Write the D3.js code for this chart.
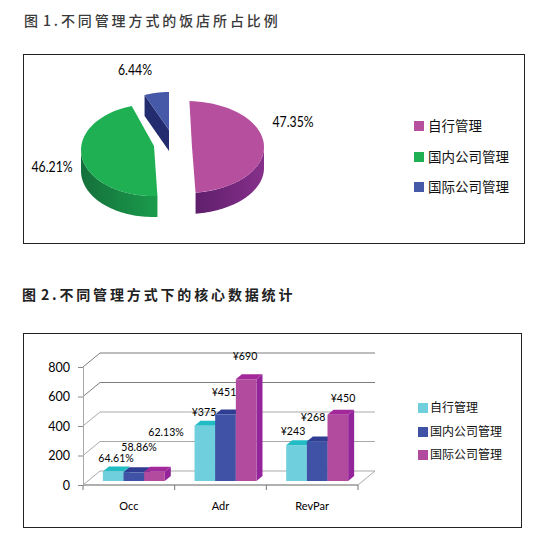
<!DOCTYPE html>
<html><head><meta charset="utf-8">
<script src="https://cdn.jsdelivr.net/npm/d3@7"></script>
<style>html,body{margin:0;padding:0;background:#fff}svg{display:block}</style>
</head><body><svg id="c" width="543" height="543"></svg>
<script>
// ---- data ----
const pieTitle = "图 1.不同管理方式的饭店所占比例";
const barTitle = "图 2.不同管理方式下的核心数据统计";
const pieCategories = ["自行管理", "国内公司管理", "国际公司管理"];
const pieValues = [47.35, 46.21, 6.44];
const pieLabels = ["47.35%", "46.21%", "6.44%"];
const barCategories = ["Occ", "Adr", "RevPar"];
const barSeries = ["自行管理", "国内公司管理", "国际公司管理"];
const seriesOwn = [64.61, 375, 243];
const seriesDomestic = [58.86, 451, 268];
const seriesIntl = [62.13, 690, 450];
const labelsOwn = ["64.61%", "¥375", "¥243"];
const labelsDomestic = ["58.86%", "¥451", "¥268"];
const labelsIntl = ["62.13%", "¥690", "¥450"];
const yTicks = [0, 200, 400, 600, 800];

// ---- style / layout ----
const svg = d3.select("#c");
const LATO = "Lato, Carlito, sans-serif";
const CJK = "'Noto Sans CJK SC', sans-serif";
const deg = Math.PI/180;
const pieStyle = [
  {cx:186, cy:147, ax:192, ay:147, rx:78, ry:46, rot:2.5, top:"#b64f9e", s0:"#86308a", s1:"#5f1f6c"},
  {cx:153, cy:150, ax:154, ay:146, rx:72, ry:46, rot:6, top:"#1eb053", s0:"#1a9b4c", s1:"#15703b"},
  {cx:169, cy:130, ax:169, ay:130, rx:62, ry:38, rot:0, top:"#4659a9", s0:"#232c6e", s1:"#232c6e"}
];
const pieDepth = 21;
const pieLabelPos = [[293,122],[52,167],[135,70]];
const barColors = [
  {front:"#70cfdd", top:"#22bcc4", side:"#3fb4c2"},
  {front:"#3f52a5", top:"#2f3d92", side:"#2c3a8c"},
  {front:"#b24a9e", top:"#a3289a", side:"#93249a"}
];

// draws text horizontally squeezed about its centre, keeping the font height
function squeezed(parent, px, py, str, size, factor){
  const g = parent.append("g").attr("transform",`translate(${px},${py}) scale(${factor},1)`);
  return g.append("text").attr("text-anchor","middle").attr("font-family",LATO)
    .attr("font-size",size).attr("fill","#000").text(str);
}

// frames
svg.append("rect").attr("x",23.5).attr("y",54.5).attr("width",501).attr("height",189).attr("fill","none").attr("stroke","#222").attr("stroke-width",1);
svg.append("rect").attr("x",23.5).attr("y",333.5).attr("width",498).attr("height",194).attr("fill","none").attr("stroke","#222").attr("stroke-width",1);

// titles
svg.append("text").attr("x",24).attr("y",26).text(pieTitle).attr("word-spacing",-4)
  .attr("font-family",CJK).attr("font-size",14).attr("font-weight",500).attr("letter-spacing",2.9).attr("fill","#3a3a3a");
svg.append("text").attr("x",22).attr("y",300).text(barTitle).attr("word-spacing",-4)
  .attr("font-family",CJK).attr("font-size",14).attr("font-weight",700).attr("letter-spacing",2.85).attr("fill","#222");

// ---- pie ----
const defs = svg.append("defs");
const pie = d3.pie().sort(null).value(d=>d)(pieValues);
const lineGen = d3.line();
function arcPts(st,a0,a1,dy){
  const n = 48;
  return d3.range(n+1).map(i=>{
    const a = a0+(a1-a0)*i/n;
    return [st.cx+st.rx*Math.sin(a), st.cy-st.ry*Math.cos(a)+dy];
  });
}
pie.forEach((p,i)=>{
  const st = pieStyle[i];
  const start = p.startAngle+st.rot*deg, end = p.endAngle+st.rot*deg;
  const g = svg.append("g");
  if(start > Math.PI*1.5){
    const o = arcPts(st,start,start,0)[0];
    g.append("path").attr("d",lineGen([o,[st.ax,st.ay],[st.ax,st.ay+pieDepth],[o[0],o[1]+pieDepth]])+"Z").attr("fill",st.s0);
  }
  const a0 = Math.max(start,Math.PI/2), a1 = Math.min(end,Math.PI*1.5);
  if(a1>a0){
    const id="side"+i;
    const gr=defs.append("linearGradient").attr("id",id);
    gr.append("stop").attr("offset","0").attr("stop-color",st.s1);
    gr.append("stop").attr("offset","1").attr("stop-color",st.s0);
    const up=arcPts(st,a0,a1,0), dn=arcPts(st,a0,a1,pieDepth).reverse();
    g.append("path").attr("d",lineGen(up.concat(dn))+"Z").attr("fill",`url(#${id})`);
  }
  const face=[[st.ax,st.ay]].concat(arcPts(st,start,end,0));
  g.append("path").attr("d",lineGen(face)+"Z").attr("fill",st.top);
  squeezed(svg,pieLabelPos[i][0],pieLabelPos[i][1]+5,pieLabels[i],15,0.82);
});
// pie legend
const pieLegY=[126,157,187];
pieCategories.forEach((c,i)=>{
  svg.append("rect").attr("x",414).attr("y",pieLegY[i]-5).attr("width",10).attr("height",10).attr("fill",pieStyle[i].top);
  svg.append("text").attr("x",428).attr("y",pieLegY[i]+5).text(c).attr("font-family",CJK).attr("font-size",13.5).attr("fill","#111");
});

// ---- bars ----
const x = d3.scaleBand().domain(barCategories).range([83,358]);
const y = d3.scaleLinear().domain([0,800]).range([485,367]);
const wall = {dx:17, dy:-14};
const barShift = {dx:5, dy:-4};
const barDepth = {dx:6, dy:-5};
const groupShare = 0.676;
const inner = d3.scaleBand().domain(barSeries).range([0,x.bandwidth()*groupShare]);

const chart = svg.append("g");
yTicks.forEach(t=>{
  const col = t>=600 ? "#7d7d7d" : "#a9a9a9";
  chart.append("path").attr("d",lineGen([[x.range()[0],y(t)],[x.range()[0]+wall.dx,y(t)+wall.dy],[x.range()[1]+wall.dx,y(t)+wall.dy]]))
    .attr("fill","none").attr("stroke",col).attr("stroke-width",1);
});
chart.append("path").attr("d",lineGen([[x.range()[1],y(0)],[x.range()[1]+wall.dx,y(0)+wall.dy]])).attr("fill","none").attr("stroke","#a9a9a9");
const yAxis = d3.axisLeft(y).tickValues(yTicks).tickSize(5).tickPadding(8);
const xAxis = d3.axisBottom(x).tickSize(0).tickPadding(17);
const gy = chart.append("g").attr("transform",`translate(${x.range()[0]},0)`).call(yAxis);
gy.select(".domain").attr("stroke","#a9a9a9");
gy.selectAll(".tick line").attr("stroke","#8a8a8a");
gy.selectAll("text").attr("font-family",LATO).attr("font-size",12.5).attr("fill","#000");
const gx = chart.append("g").attr("transform",`translate(0,${y(0)})`).call(xAxis);
gx.select(".domain").attr("stroke","#b0b0b0").attr("stroke-width",2).attr("d",`M${x.range()[0]},0H${x.range()[1]}`);
gx.selectAll("text").attr("font-family",LATO).attr("font-size",11).attr("fill","#000");
barCategories.concat([null]).forEach((c,i)=>{
  const px = x.range()[0]+i*x.step();
  chart.append("line").attr("x1",px).attr("x2",px).attr("y1",y(0)).attr("y2",y(0)+5).attr("stroke","#777");
});

const rows = [seriesOwn, seriesDomestic, seriesIntl];
const rowLabels = [labelsOwn, labelsDomestic, labelsIntl];
const labelPos = [
  [[116,458],[204,412],[293,431]],
  [[139,447],[224,392],[313,417]],
  [[166,432],[245,356],[343,398]]
];
const pad = x.bandwidth()*(1-groupShare)/2;
barCategories.forEach((cat,ci)=>{
  rows.forEach((vals,si)=>{
    const v = vals[ci], c = barColors[si];
    const x0 = x(cat)+pad+barShift.dx+inner(barSeries[si]);
    const w = inner.bandwidth();
    const yb = y(0)+barShift.dy, yt = y(v)+barShift.dy;
    const g = chart.append("g");
    g.append("path").attr("d",lineGen([[x0+w,yt],[x0+w+barDepth.dx,yt+barDepth.dy],[x0+w+barDepth.dx,yb+barDepth.dy],[x0+w,yb]])+"Z").attr("fill",c.side);
    g.append("path").attr("d",lineGen([[x0,yt],[x0+barDepth.dx,yt+barDepth.dy],[x0+w+barDepth.dx,yt+barDepth.dy],[x0+w,yt]])+"Z").attr("fill",c.top);
    g.append("rect").attr("x",x0).attr("y",yt).attr("width",w).attr("height",yb-yt).attr("fill",c.front);
  });
});
rowLabels.forEach((labs,si)=>labs.forEach((t,ci)=>{
  squeezed(chart,labelPos[si][ci][0],labelPos[si][ci][1]+4,t,11.5,0.92);
}));
const barLegY=[408,432,455];
barSeries.forEach((c,i)=>{
  svg.append("rect").attr("x",418).attr("y",barLegY[i]-5).attr("width",10).attr("height",10).attr("fill",barColors[i].front);
  svg.append("text").attr("x",430).attr("y",barLegY[i]+4).text(c).attr("font-family",CJK).attr("font-size",12).attr("fill","#111");
});
</script></body></html>
